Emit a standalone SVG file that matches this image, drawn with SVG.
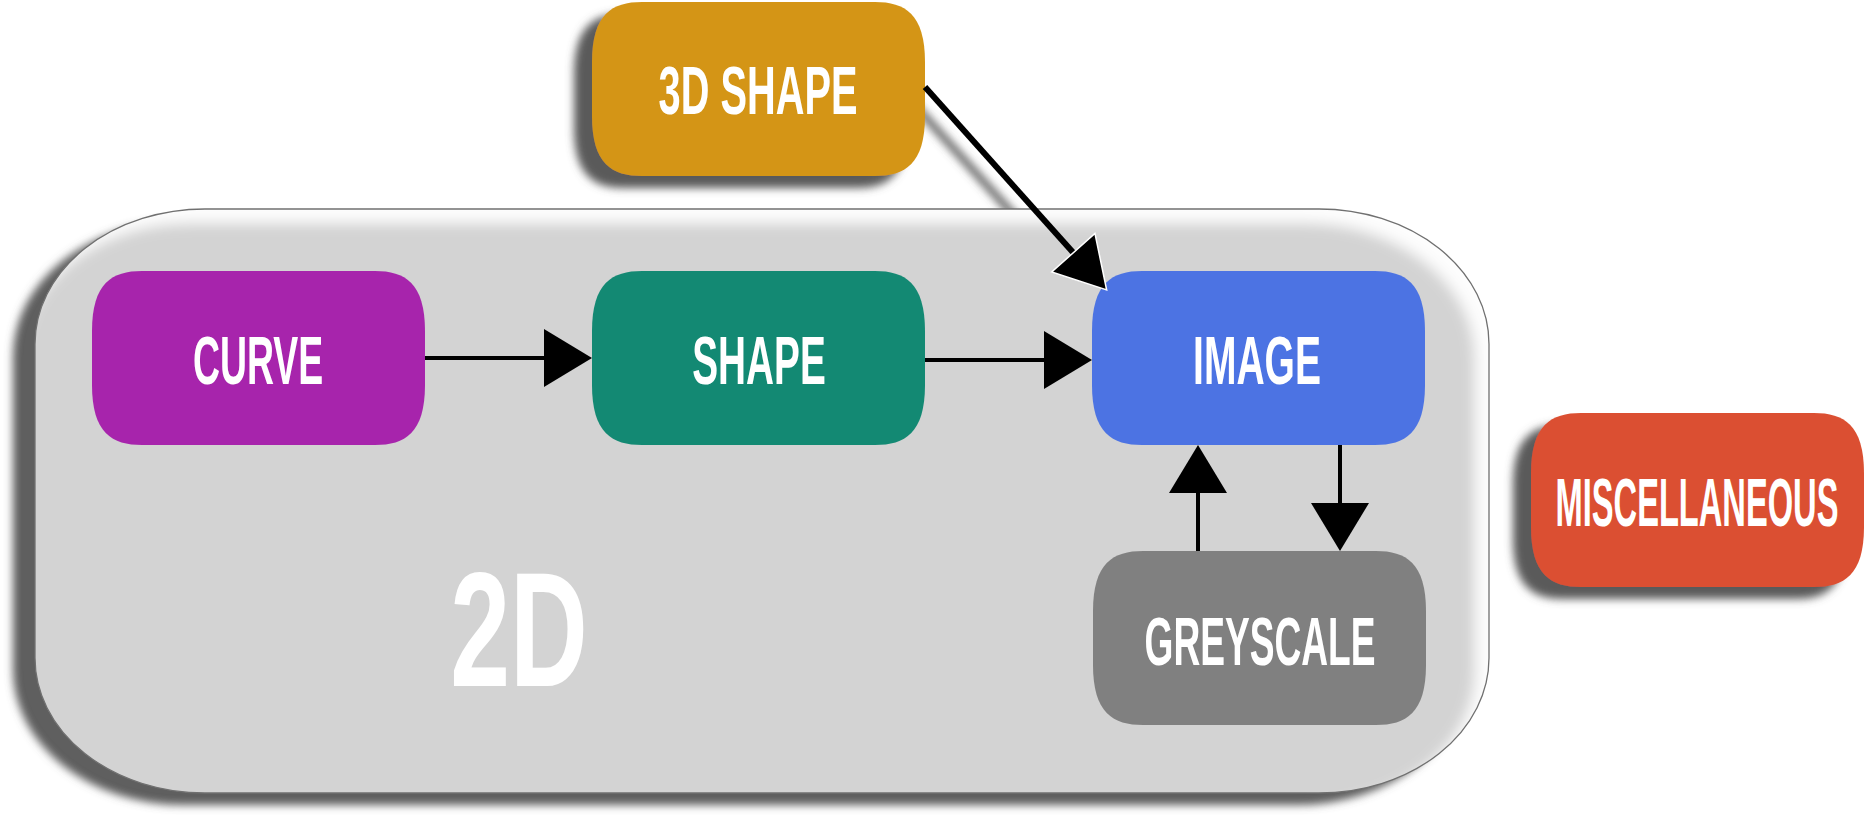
<svg xmlns="http://www.w3.org/2000/svg" xmlns:xlink="http://www.w3.org/1999/xlink" width="1865" height="821" viewBox="0 0 1865 821">
  <style>
    .lbl { font-family: "Liberation Sans", "DejaVu Sans", sans-serif; font-weight: bold; font-size: 68px; fill: #ffffff; text-anchor: middle; }
    .big { font-family: "Liberation Sans", "DejaVu Sans", sans-serif; font-weight: bold; font-size: 163px; fill: #ffffff; text-anchor: middle; }
    .edge { stroke: #000000; stroke-width: 4; fill: none; }
    .edge.thick { stroke-width: 6; }
  </style>
  <defs>
    <path id="nodeShape" d="M 50,0 H 283 C 313,0 333,12 333,60 V 114 C 333,162 313,174 283,174 H 50 C 20,174 0,162 0,114 V 60 C 0,12 20,0 50,0 Z"/>
    <filter id="dropShadow" x="-20%" y="-20%" width="140%" height="150%">
      <feGaussianBlur in="SourceAlpha" stdDeviation="4" result="b"/>
      <feOffset in="b" dx="-18" dy="12" result="o"/>
      <feFlood flood-color="#5a5a5a" result="c"/>
      <feComposite in="c" in2="o" operator="in" result="s"/>
      <feMerge><feMergeNode in="s"/><feMergeNode in="SourceGraphic"/></feMerge>
    </filter>
    <filter id="containerFx" x="-5%" y="-10%" width="110%" height="125%">
      <feGaussianBlur in="SourceAlpha" stdDeviation="4" result="sb"/>
      <feOffset in="sb" dx="-22" dy="12" result="so"/>
      <feFlood flood-color="#5e5e5e" result="sc"/>
      <feComposite in="sc" in2="so" operator="in" result="shadow"/>
      <feComponentTransfer in="SourceAlpha" result="inv"><feFuncA type="table" tableValues="1 0"/></feComponentTransfer>
      <feGaussianBlur in="inv" stdDeviation="7" result="ib"/>
      <feOffset in="ib" dx="-14" dy="14" result="io"/>
      <feFlood flood-color="#ffffff" flood-opacity="0.95" result="ic"/>
      <feComposite in="ic" in2="io" operator="in" result="ig"/>
      <feComposite in="ig" in2="SourceAlpha" operator="in" result="glow"/>
      <feMerge><feMergeNode in="shadow"/><feMergeNode in="SourceGraphic"/><feMergeNode in="glow"/></feMerge>
    </filter>
    <filter id="lineShadow" x="-20%" y="-20%" width="140%" height="140%">
      <feGaussianBlur stdDeviation="4"/>
    </filter>
    <marker id="arrow" viewBox="0 0 48 58" refX="44" refY="29" markerWidth="48" markerHeight="58" markerUnits="userSpaceOnUse" orient="auto">
      <path d="M0,0 L48,29 L0,58 Z" fill="#000000"/>
    </marker>
    <marker id="arrowW" viewBox="-2 -2 54 62" refX="46" refY="29" markerWidth="54" markerHeight="62" markerUnits="userSpaceOnUse" orient="auto">
      <path d="M0,0 L50,29 L0,58 Z" fill="#000000" stroke="#ffffff" stroke-width="1.5"/>
    </marker>
  </defs>

  <rect x="0" y="0" width="1865" height="821" fill="#ffffff"/>

  <g id="connector-shadow">
    <line x1="910" y1="100" x2="1090" y2="300" stroke="#555555" stroke-width="7" filter="url(#lineShadow)"/>
  </g>

  <g id="group-2d">
    <rect x="35" y="209" width="1454" height="584" rx="170" ry="135" fill="#d3d3d3" filter="url(#containerFx)"/>
    <rect x="35" y="209" width="1454" height="584" rx="170" ry="135" fill="none" stroke="#707070" stroke-width="1.3"/>
    <text class="big" transform="translate(519,686) scale(0.66,1)">2D</text>
  </g>

  <g id="node-3d-shape">
    <use href="#nodeShape" x="592" y="2" fill="#d49516" filter="url(#dropShadow)"/>
    <text class="lbl" transform="translate(758,114) scale(0.585,1)">3D SHAPE</text>
  </g>

  <g id="node-curve">
    <use href="#nodeShape" x="92" y="271" fill="#a724ac"/>
    <text class="lbl" transform="translate(258,384) scale(0.55,1)">CURVE</text>
  </g>

  <g id="node-shape">
    <use href="#nodeShape" x="592" y="271" fill="#138973"/>
    <text class="lbl" transform="translate(759,384) scale(0.57,1)">SHAPE</text>
  </g>

  <g id="node-image">
    <use href="#nodeShape" x="1092" y="271" fill="#4c73e3"/>
    <text class="lbl" transform="translate(1257,384) scale(0.574,1)">IMAGE</text>
  </g>

  <g id="node-greyscale">
    <use href="#nodeShape" x="1093" y="551" fill="#808080"/>
    <text class="lbl" transform="translate(1260,665) scale(0.546,1)">GREYSCALE</text>
  </g>

  <g id="node-miscellaneous">
    <use href="#nodeShape" x="1531" y="413" fill="#db4f30" filter="url(#dropShadow)"/>
    <text class="lbl" transform="translate(1697,526) scale(0.48,1)">MISCELLANEOUS</text>
  </g>

  <g id="connectors">
    <line class="edge" x1="425" y1="358" x2="588" y2="358" marker-end="url(#arrow)"/>
    <line class="edge" x1="925" y1="360" x2="1088" y2="360" marker-end="url(#arrow)"/>
    <line class="edge" x1="1340" y1="445" x2="1340" y2="547" marker-end="url(#arrow)"/>
    <line class="edge" x1="1198" y1="551" x2="1198" y2="449" marker-end="url(#arrow)"/>
    <line class="edge thick" x1="925" y1="87" x2="1104" y2="287" marker-end="url(#arrowW)"/>
  </g>
</svg>
